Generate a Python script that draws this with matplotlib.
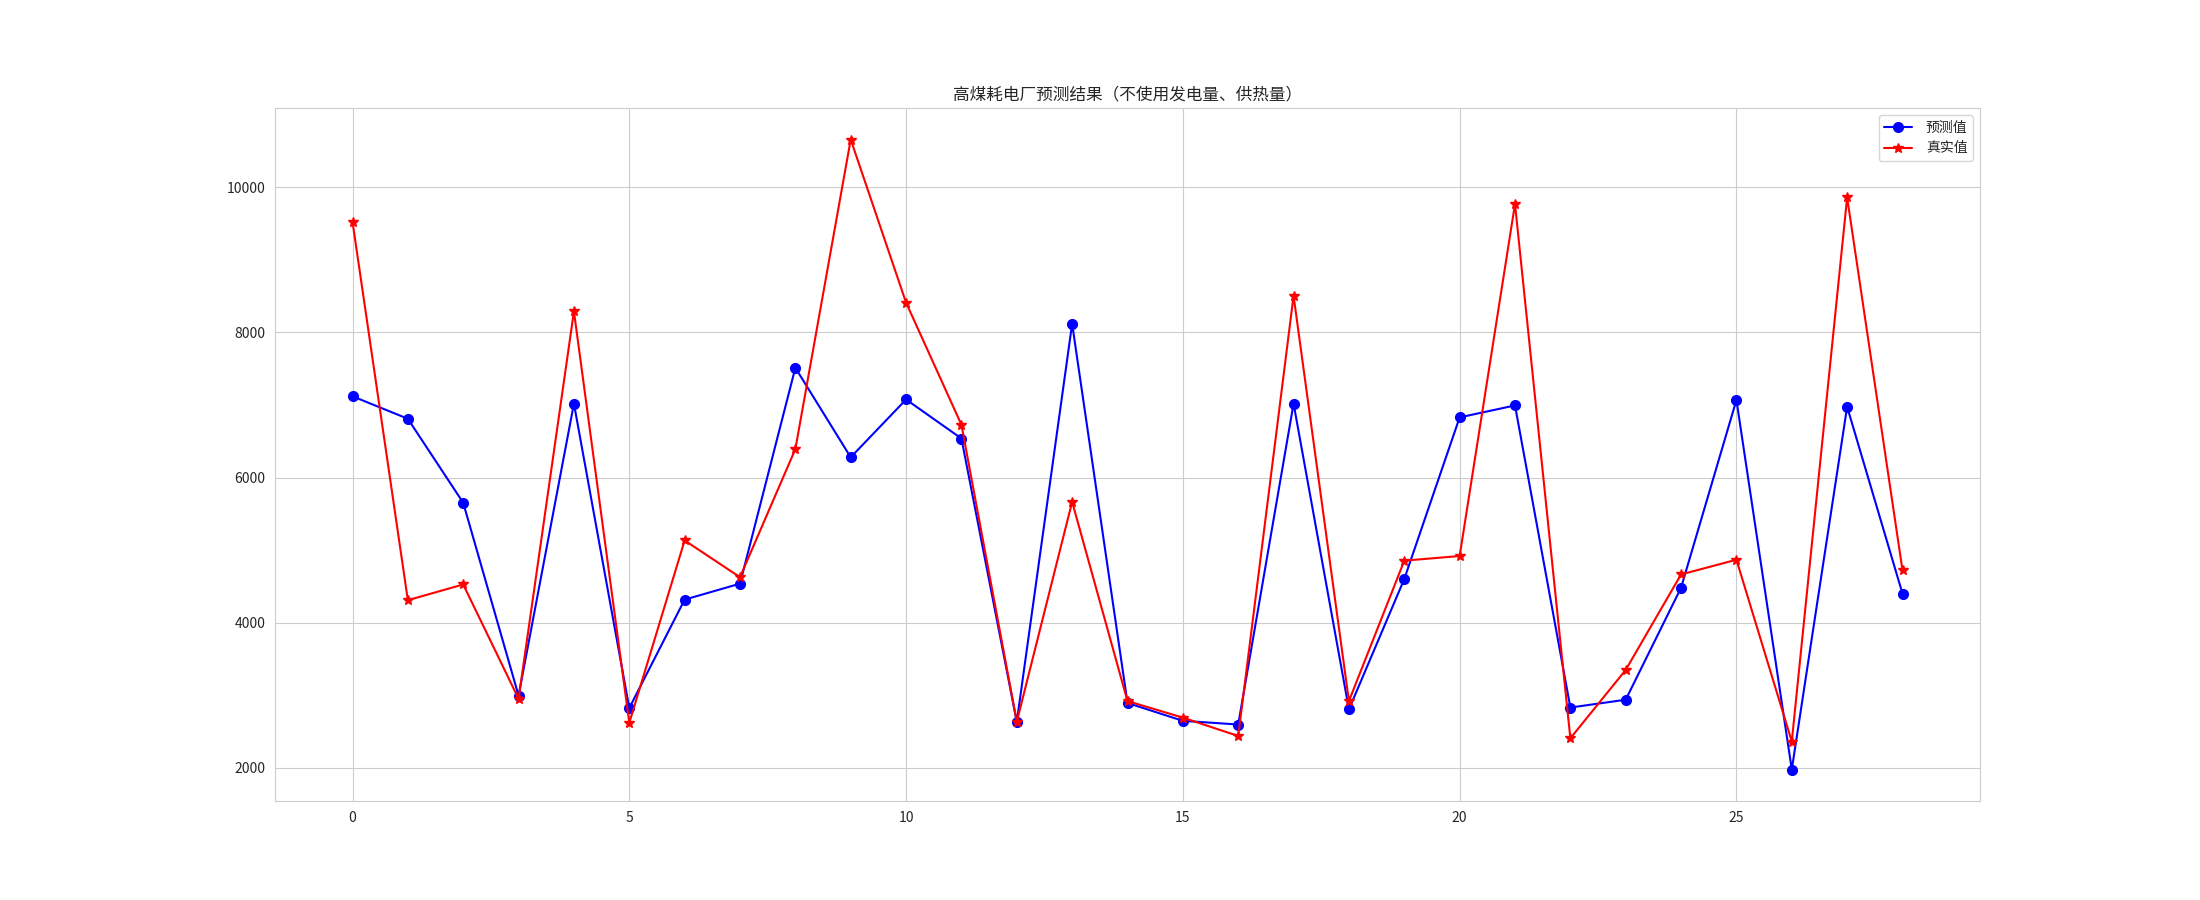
import numpy as np
import matplotlib
matplotlib.use("Agg")
import matplotlib.pyplot as plt
import seaborn as sns

# values
pred = [7120, 6810, 5652, 2993, 7019, 2822, 4317, 4537, 7513, 6279,
        7076, 6538, 2633, 8120, 2892, 2646, 2595, 7019, 2804, 4601,
        6829, 6994, 2829, 2937, 4481, 7069, 1975, 6975, 4399]
true = [9526, 4309, 4526, 2950, 8291, 2619, 5133, 4626, 6392, 10660,
        8411, 6728, 2633, 5665, 2918, 2690, 2437, 8506, 2918, 4854,
        4918, 9772, 2405, 3348, 4664, 4867, 2361, 9861, 4721]
labels = ["预测值", "真实值"]
title = "高煤耗电厂预测结果（不使用发电量、供热量）"

sns.set_style("whitegrid")
plt.rcParams["font.family"] = ["Noto Sans CJK SC", "DejaVu Sans"]
plt.rcParams["axes.unicode_minus"] = False

x = np.arange(len(pred))

plt.figure(figsize=(22, 9), dpi=100)
plt.plot(x, pred, color="blue", marker="o", markersize=7, label=labels[0])
plt.plot(x, true, color="red", marker="*", markersize=7, label=labels[1])
plt.title(title, fontsize=12)
plt.legend(loc="upper right", fontsize=10, handletextpad=1.0)
plt.savefig("out.png")
plt.close()
